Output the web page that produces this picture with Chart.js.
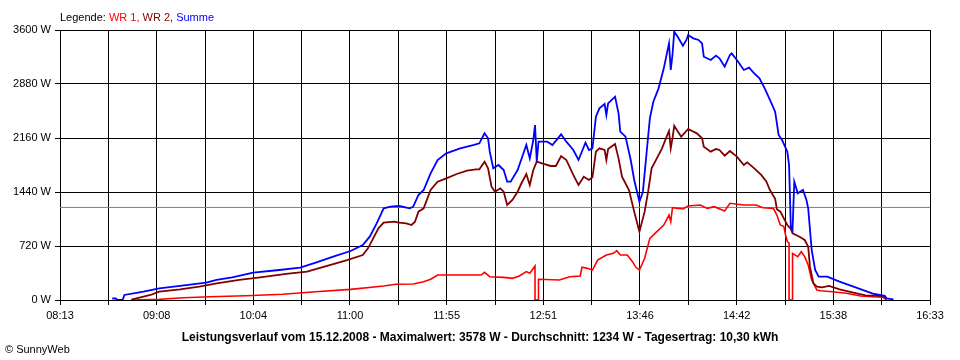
<!DOCTYPE html>
<html>
<head>
<meta charset="utf-8">
<script src="https://cdn.jsdelivr.net/npm/chart.js@4/dist/chart.umd.min.js"></script>
<style>
  body { margin: 0; background: #fff; }
  canvas { display: block; }
</style>
</head>
<body>
<canvas id="chart" width="960" height="360"></canvas>
<script>
'use strict'

// x axis: 08:13 .. 16:33, gridline every 27.8 min, label on every second one
const xTickLabels = ['08:13', '09:08', '10:04', '11:00', '11:55', '12:51', '13:46', '14:42', '15:38', '16:33'];
const yTicks = [0, 720, 1440, 2160, 2880, 3600];

// WR 1 (red)
const wr1Times = ['08:54', '09:10', '09:24', '09:39', '10:00', '10:21', '10:40', '11:00', '11:19', '11:26',
    '11:36', '11:42', '11:46', '11:50', '12:15', '12:17', '12:20', '12:28', '12:33', '12:37',
    '12:41', '12:43', '12:46', '12:46', '12:48', '12:48', '13:00', '13:06', '13:12', '13:13',
    '13:16', '13:19', '13:22', '13:27', '13:31', '13:33', '13:35', '13:39', '13:42', '13:44',
    '13:46', '13:49', '13:52', '13:56', '14:00', '14:03', '14:04', '14:05', '14:11', '14:14',
    '14:21', '14:25', '14:29', '14:35', '14:38', '14:46', '14:53', '14:57', '15:03', '15:05',
    '15:07', '15:09', '15:10', '15:11', '15:12', '15:12', '15:14', '15:14', '15:17', '15:19',
    '15:21', '15:23', '15:25', '15:28', '15:30', '15:37', '15:45', '15:53', '16:00', '16:06', '16:08'];
const wr1Watts = [0, 9, 31, 44, 57, 76, 111, 142, 187, 209,
    213, 244, 276, 333, 333, 369, 311, 302, 289, 320,
    378, 356, 453, 0, 0, 276, 267, 311, 320, 436,
    422, 400, 533, 600, 622, 658, 600, 600, 511, 436,
    400, 556, 822, 911, 1000, 1133, 1044, 1231, 1213, 1253,
    1267, 1222, 1244, 1187, 1289, 1267, 1267, 1231, 1222, 1133,
    1000, 978, 867, 780, 760, 0, 0, 622, 578, 644,
    578, 467, 267, 133, 124, 111, 89, 53, 44, 36, 0];

// WR 2 (dark red)
const wr2Times = ['08:54', '09:05', '09:10', '09:22', '09:33', '09:43', '09:56', '10:08', '10:23', '10:35',
    '10:46', '10:58', '11:07', '11:10', '11:13', '11:16', '11:19', '11:25', '11:28', '11:32',
    '11:35', '11:37', '11:39', '11:42', '11:46', '11:50', '11:55', '12:01', '12:07', '12:12',
    '12:14', '12:17', '12:19', '12:21', '12:23', '12:26', '12:28', '12:30', '12:33', '12:36',
    '12:38', '12:41', '12:43', '12:45', '12:47', '12:50', '12:55', '12:58', '13:01', '13:04',
    '13:08', '13:11', '13:14', '13:17', '13:19', '13:21', '13:23', '13:26', '13:27', '13:28',
    '13:32', '13:34', '13:36', '13:40', '13:43', '13:46', '13:49', '13:51', '13:53', '13:56',
    '13:59', '14:02', '14:03', '14:04', '14:05', '14:06', '14:10', '14:14', '14:19', '14:22',
    '14:23', '14:27', '14:30', '14:32', '14:35', '14:38', '14:42', '14:46', '14:48', '14:52',
    '14:56', '14:59', '15:01', '15:04', '15:05', '15:07', '15:09', '15:11', '15:13', '15:14',
    '15:18', '15:21', '15:23', '15:24', '15:26', '15:28', '15:31', '15:35', '15:41', '15:49',
    '15:56', '16:02', '16:07', '16:08'];
const wr2Watts = [5, 67, 111, 142, 178, 222, 267, 302, 347, 378,
    453, 533, 600, 689, 822, 956, 1031, 1044, 1031, 1022,
    1000, 1044, 1178, 1222, 1467, 1578, 1622, 1680, 1724, 1742,
    1742, 1844, 1756, 1511, 1444, 1489, 1444, 1267, 1333, 1444,
    1547, 1680, 1533, 1733, 1844, 1822, 1787, 1787, 1920, 1867,
    1667, 1533, 1644, 1600, 1636, 1978, 2022, 2000, 1867, 2013,
    2080, 1889, 1644, 1467, 1178, 911, 1178, 1444, 1756, 1889,
    2022, 2200, 2253, 2022, 2156, 2324, 2178, 2280, 2222, 2156,
    2044, 1978, 2013, 2000, 1924, 1987, 1911, 1800, 1836, 1756,
    1667, 1578, 1467, 1350, 1209, 1178, 1089, 1000, 947, 889,
    844, 800, 711, 444, 222, 178, 169, 187, 142, 98,
    62, 57, 44, 9];

// Summe (blue)
const summeTimes = ['08:43', '08:45', '08:46', '08:49', '08:50', '09:01', '09:10', '09:22', '09:37', '09:43',
    '09:52', '10:04', '10:19', '10:31', '10:40', '10:50', '11:00', '11:07', '11:11', '11:15',
    '11:19', '11:23', '11:28', '11:34', '11:36', '11:39', '11:42', '11:46', '11:50', '11:55',
    '12:03', '12:11', '12:14', '12:17', '12:19', '12:20', '12:22', '12:25', '12:28', '12:30',
    '12:32', '12:36', '12:39', '12:41', '12:43', '12:45', '12:46', '12:47', '12:48', '12:53',
    '12:56', '13:01', '13:04', '13:08', '13:11', '13:15', '13:17', '13:19', '13:21', '13:23',
    '13:26', '13:27', '13:28', '13:32', '13:34', '13:35', '13:38', '13:41', '13:43', '13:46',
    '13:48', '13:50', '13:52', '13:54', '13:57', '14:00', '14:02', '14:03', '14:04', '14:05',
    '14:06', '14:08', '14:11', '14:13', '14:14', '14:17', '14:20', '14:22', '14:23', '14:27',
    '14:30', '14:32', '14:35', '14:38', '14:39', '14:42', '14:46', '14:49', '14:52', '14:55',
    '14:58', '15:01', '15:04', '15:06', '15:08', '15:11', '15:12', '15:13', '15:14', '15:15',
    '15:17', '15:20', '15:22', '15:23', '15:25', '15:27', '15:29', '15:34', '15:41', '15:49',
    '15:57', '16:01', '16:07', '16:08', '16:12'];
const summeWatts = [20, 20, 0, 0, 67, 111, 156, 187, 231, 267,
    302, 364, 400, 431, 498, 578, 653, 733, 844, 1022,
    1222, 1244, 1253, 1222, 1244, 1400, 1467, 1689, 1867, 1956,
    2022, 2067, 2089, 2222, 2156, 1978, 1756, 1800, 1733, 1578,
    1578, 1733, 1933, 2067, 1889, 2133, 2333, 1844, 2111, 2111,
    2067, 2209, 2111, 2000, 1867, 2098, 2000, 2022, 2444, 2556,
    2613, 2467, 2622, 2711, 2489, 2244, 2178, 1867, 1600, 1311,
    1444, 1933, 2422, 2644, 2822, 3089, 3311, 3422, 3067, 3267,
    3578, 3511, 3391, 3467, 3533, 3489, 3467, 3422, 3244, 3200,
    3258, 3222, 3111, 3267, 3289, 3200, 3067, 3098, 3022, 2956,
    2822, 2667, 2511, 2200, 2133, 1978, 1800, 978, 933, 1578,
    1422, 1467, 1333, 1222, 667, 400, 311, 311, 244, 178,
    111, 80, 57, 22, 9];

const durchschnitt = 1234;
const legendParts = [['Legende: ', '#000000'], ['WR 1, ', '#ff0000'], ['WR 2, ', '#800000'], ['Summe', '#0000ff']];
const footerText = 'Leistungsverlauf vom 15.12.2008 - Maximalwert: 3578 W - Durchschnitt: 1234 W - Tagesertrag: 10,30 kWh';
const copyrightText = '\u00A9 SunnyWeb';

const toMin = s => {
    const [h, m] = s.split(':').map(Number);
    return h * 60 + m;
};
const points = (times, watts) => times.map((t, i) => ({ x: toMin(t), y: watts[i] }));

const xMin = toMin(xTickLabels[0]);
const xMax = toMin(xTickLabels[xTickLabels.length - 1]);
const FONT = '"Liberation Sans", Arial, sans-serif';

const line = (label, data, color, width) => ({
    label: label,
    data: data,
    borderColor: color,
    borderWidth: width,
    pointRadius: 0,
    tension: 0,
    fill: false
});

// draws legend line, footer and copyright as plain text
const textPlugin = {
    id: 'texts',
    afterDraw(chart) {
        const ctx = chart.ctx;
        ctx.save();
        ctx.textBaseline = 'alphabetic';
        ctx.font = '11px ' + FONT;
        let x = chart.chartArea.left;
        legendParts.forEach(([txt, col]) => {
            ctx.fillStyle = col;
            ctx.fillText(txt, x, 21);
            x += ctx.measureText(txt).width;
        });
        ctx.fillStyle = '#000';
        ctx.fillText(copyrightText, 5, 353);
        ctx.font = 'bold 12px ' + FONT;
        ctx.textAlign = 'center';
        ctx.fillText(footerText, 480, 341);
        ctx.restore();
    }
};

Chart.defaults.font.family = FONT;
Chart.defaults.font.size = 11;
Chart.defaults.color = '#000';

new Chart(document.getElementById('chart'), {
    type: 'line',
    data: {
        datasets: [
            line('Summe', points(summeTimes, summeWatts), '#0000ff', 1.8),
            line('WR 2', points(wr2Times, wr2Watts), '#800000', 1.8),
            line('WR 1', points(wr1Times, wr1Watts), '#ff0000', 1.6),
            line('Durchschnitt', [{ x: xMin, y: durchschnitt }, { x: xMax, y: durchschnitt }], '#808080', 1)
        ]
    },
    options: {
        responsive: false,
        animation: false,
        layout: { padding: { top: 30, right: 30, left: 0, bottom: 0 } },
        plugins: {
            legend: { display: false },
            tooltip: { enabled: false }
        },
        scales: {
            x: {
                type: 'linear',
                min: xMin,
                max: xMax,
                afterFit: s => { s.height = 60; },
                afterBuildTicks: s => {
                    s.ticks = Array.from({ length: 19 }, (_, i) => ({ value: xMin + i * (xMax - xMin) / 18 }));
                },
                grid: { color: '#000', lineWidth: 1, tickLength: 5 },
                border: { color: '#000' },
                ticks: {
                    autoSkip: false,
                    maxRotation: 0,
                    padding: 4,
                    callback: (v, i) => (i % 2 === 0 ? xTickLabels[i / 2] : '')
                }
            },
            y: {
                min: 0,
                max: 3600,
                afterFit: s => { s.width = 60; },
                afterBuildTicks: s => { s.ticks = yTicks.map(v => ({ value: v })); },
                grid: { color: '#000', lineWidth: 1, tickLength: 5 },
                border: { color: '#000' },
                ticks: {
                    padding: 4,
                    callback: v => v + ' W'
                }
            }
        }
    },
    plugins: [textPlugin]
});
</script>
</body>
</html>
